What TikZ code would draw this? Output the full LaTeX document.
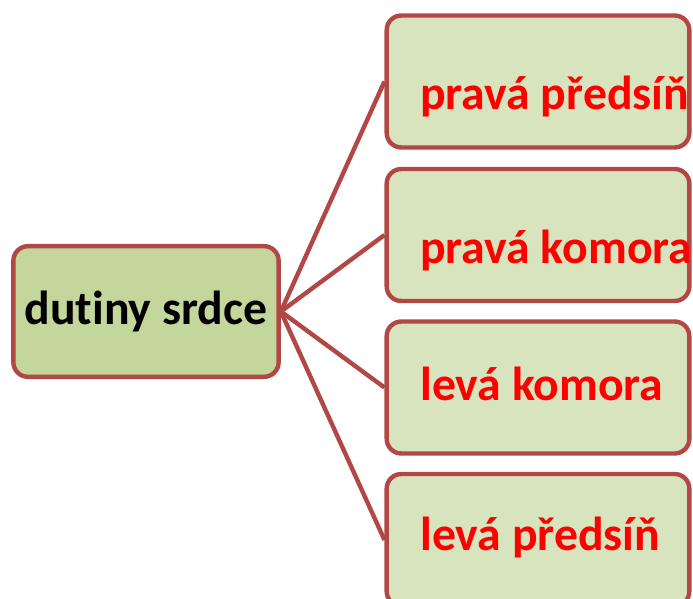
\documentclass[tikz,border=0pt]{standalone}
\usepackage{fontspec}
\setmainfont{Carlito}[Ligatures=NoCommon]
\usetikzlibrary{positioning}
\begin{document}
\begin{tikzpicture}[x=0.75pt,y=-0.75pt,
  srdceBox/.style={draw=boxLine,fill=leftFill,line width=3.3pt,rounded corners=11pt,inner sep=0pt,minimum width=199pt,minimum height=98pt},
  dutinaBox/.style={draw=boxLine,fill=rightFill,line width=3.3pt,rounded corners=11pt,inner sep=0pt,minimum width=227pt,minimum height=99pt},
  spoj/.style={draw=boxLine,line width=3.3pt},
  popis/.style={font=\fontsize{35.8}{43}\selectfont\bfseries,inner sep=0pt}]
\definecolor{boxLine}{RGB}{178,72,70}
\definecolor{leftFill}{RGB}{195,214,155}
\definecolor{rightFill}{RGB}{215,228,189}
\definecolor{textRed}{RGB}{255,0,0}
\clip (0,0) rectangle (693,599);
\node[srdceBox] (srdce) at (146,311.5) {};
\node[popis,anchor=base] (srdce text) at (146,324) {dutiny srdce};
\foreach \n/\y/\b/\t in {pp/81.5/110/pravá předsíň,pk/235/263/pravá komora,lk/387.5/400/levá komora,lp/540/550/levá předsíň}{
  \node[dutinaBox] (\n) at (538,\y) {};
  \draw[spoj] (srdce.east) -- (\n.west);
  \node[popis,text=textRed,anchor=base west] (\n text) at (420,\b) {\t};
}
\end{tikzpicture}
\end{document}
